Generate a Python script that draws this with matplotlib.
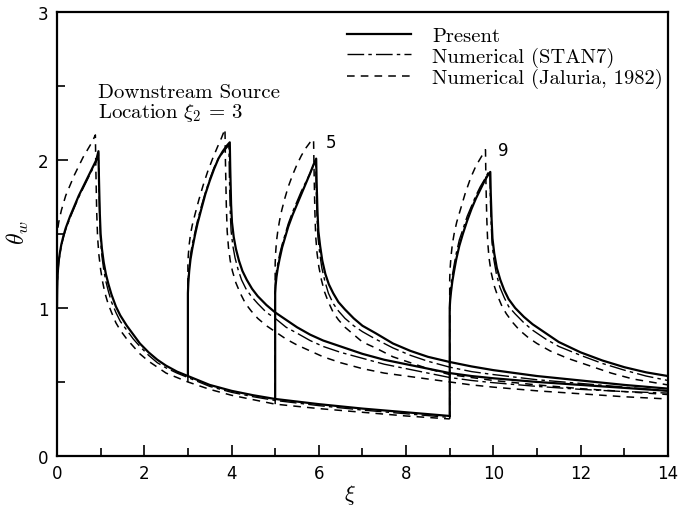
import matplotlib
matplotlib.use("Agg")
import matplotlib.pyplot as plt
from matplotlib.ticker import MultipleLocator

plt.rcParams['mathtext.fontset'] = 'cm'
plt.rcParams['axes.unicode_minus'] = False

# first source (0 < xi < 1), common to every case up to xi2
xi_p1 = [0, 0.005, 0.01, 0.02, 0.04, 0.07, 0.1, 0.15, 0.2, 0.3, 0.4, 0.5, 0.6, 0.7, 0.8, 0.9, 0.95,
         0.96, 0.98, 1.0, 1.03, 1.07, 1.12, 1.18, 1.25, 1.35, 1.45, 1.6, 1.75, 1.9, 2.1, 2.3, 2.5,
         2.75, 3.0, 3.5, 4.0, 4.5, 5.0, 6.0, 7.0, 8.0, 9.0]
th_p1 = [1.0, 1.12, 1.18, 1.25, 1.32, 1.38, 1.43, 1.49, 1.54, 1.62, 1.69, 1.76, 1.82, 1.88, 1.94, 2.0, 2.06,
         1.9, 1.65, 1.5, 1.4, 1.31, 1.23, 1.16, 1.09, 1.01, 0.95, 0.88, 0.82, 0.76, 0.7, 0.65, 0.61,
         0.57, 0.54, 0.48, 0.44, 0.41, 0.385, 0.35, 0.32, 0.295, 0.27]
xi_s1 = xi_p1
th_s1 = [1.05, 1.13, 1.18, 1.24, 1.31, 1.37, 1.42, 1.48, 1.53, 1.61, 1.68, 1.75, 1.81, 1.87, 1.93, 1.99, 2.05,
         1.85, 1.6, 1.45, 1.35, 1.26, 1.18, 1.11, 1.04, 0.97, 0.91, 0.85, 0.79, 0.74, 0.68, 0.63, 0.595,
         0.56, 0.53, 0.47, 0.43, 0.4, 0.375, 0.34, 0.31, 0.285, 0.26]
xi_j1 = [0, 0.005, 0.01, 0.02, 0.04, 0.07, 0.1, 0.15, 0.2, 0.3, 0.4, 0.5, 0.6, 0.7, 0.8, 0.88,
         0.89, 0.91, 0.93, 0.96, 1.0, 1.05, 1.1, 1.17, 1.25, 1.35, 1.45, 1.6, 1.75, 1.9, 2.1, 2.3, 2.5,
         2.75, 3.0, 3.5, 4.0, 4.5, 5.0, 6.0, 7.0, 8.0, 9.0]
th_j1 = [1.45, 1.49, 1.51, 1.54, 1.58, 1.62, 1.66, 1.71, 1.76, 1.83, 1.9, 1.96, 2.02, 2.07, 2.12, 2.17,
         1.95, 1.65, 1.48, 1.36, 1.26, 1.17, 1.1, 1.03, 0.97, 0.9, 0.85, 0.79, 0.74, 0.69, 0.64, 0.6, 0.56,
         0.53, 0.5, 0.45, 0.41, 0.38, 0.35, 0.32, 0.295, 0.27, 0.25]

# downstream source at xi2 = 3
xi_p3 = [3.0, 3.0, 3.01, 3.03, 3.06, 3.1, 3.16, 3.22, 3.3, 3.4, 3.5, 3.6, 3.7, 3.8, 3.9, 3.96,
         3.97, 3.99, 4.01, 4.05, 4.1, 4.17, 4.25, 4.35, 4.47, 4.6, 4.8, 5.0, 5.25, 5.5, 5.8, 6.1,
         6.5, 7.0, 7.5, 8.0, 8.5, 9.0, 9.5, 10.0, 11.0, 12.0, 13.0, 14.0]
th_p3 = [0.54, 1.1, 1.17, 1.25, 1.33, 1.4, 1.49, 1.57, 1.66, 1.77, 1.86, 1.94, 2.01, 2.06, 2.1, 2.12,
         1.95, 1.7, 1.58, 1.48, 1.4, 1.32, 1.25, 1.19, 1.13, 1.08, 1.02, 0.97, 0.92, 0.87, 0.82, 0.78,
         0.74, 0.69, 0.65, 0.62, 0.59, 0.56, 0.54, 0.525, 0.5, 0.48, 0.46, 0.44]
xi_s3 = [3.0, 3.0, 3.01, 3.03, 3.06, 3.1, 3.16, 3.22, 3.3, 3.4, 3.5, 3.6, 3.7, 3.8, 3.88, 3.94,
         3.95, 3.97, 3.99, 4.03, 4.08, 4.15, 4.23, 4.33, 4.45, 4.6, 4.8, 5.0, 5.25, 5.5, 5.8, 6.1,
         6.5, 7.0, 7.5, 8.0, 8.5, 9.0, 9.5, 10.0, 11.0, 12.0, 13.0, 14.0]
th_s3 = [0.53, 1.15, 1.21, 1.28, 1.36, 1.43, 1.51, 1.59, 1.68, 1.78, 1.87, 1.95, 2.01, 2.05, 2.08, 2.1,
         1.9, 1.65, 1.52, 1.42, 1.34, 1.26, 1.19, 1.13, 1.08, 1.03, 0.97, 0.93, 0.87, 0.83, 0.78, 0.74,
         0.7, 0.66, 0.62, 0.59, 0.56, 0.53, 0.51, 0.495, 0.47, 0.45, 0.435, 0.425]
xi_j3 = [3.0, 3.0, 3.01, 3.03, 3.06, 3.1, 3.16, 3.25, 3.35, 3.45, 3.58, 3.68, 3.77, 3.85,
         3.86, 3.88, 3.9, 3.93, 3.97, 4.02, 4.1, 4.2, 4.32, 4.45, 4.6, 4.8, 5.0, 5.25, 5.5, 5.8, 6.1,
         6.5, 7.0, 7.5, 8.0, 8.5, 9.0, 9.5, 10.0, 11.0, 12.0, 13.0, 14.0]
th_j3 = [0.5, 1.3, 1.36, 1.43, 1.5, 1.56, 1.63, 1.73, 1.83, 1.92, 2.02, 2.09, 2.15, 2.21,
         2.0, 1.7, 1.52, 1.41, 1.32, 1.25, 1.17, 1.1, 1.03, 0.98, 0.93, 0.88, 0.84, 0.79, 0.75, 0.71, 0.67,
         0.63, 0.59, 0.56, 0.54, 0.52, 0.5, 0.48, 0.465, 0.44, 0.42, 0.4, 0.385]

# downstream source at xi2 = 5
xi_p5 = [5.0, 5.0, 5.01, 5.03, 5.06, 5.1, 5.16, 5.22, 5.3, 5.4, 5.5, 5.6, 5.7, 5.8, 5.88, 5.94,
         5.95, 5.97, 5.99, 6.03, 6.08, 6.15, 6.23, 6.33, 6.45, 6.6, 6.8, 7.0, 7.3, 7.7, 8.1, 8.5,
         9.0, 9.5, 10.0, 11.0, 12.0, 13.0, 14.0]
th_p5 = [0.385, 1.1, 1.15, 1.21, 1.27, 1.33, 1.41, 1.47, 1.55, 1.63, 1.7, 1.77, 1.84, 1.91, 1.97, 2.01,
         1.85, 1.65, 1.52, 1.42, 1.32, 1.23, 1.16, 1.1, 1.04, 0.99, 0.93, 0.88, 0.83, 0.76, 0.71, 0.67,
         0.635, 0.605, 0.58, 0.54, 0.51, 0.48, 0.455]
xi_s5 = [5.0, 5.0, 5.01, 5.03, 5.06, 5.1, 5.16, 5.22, 5.3, 5.4, 5.5, 5.6, 5.7, 5.8, 5.87, 5.93,
         5.94, 5.96, 5.98, 6.02, 6.07, 6.14, 6.22, 6.33, 6.45, 6.6, 6.8, 7.0, 7.3, 7.7, 8.1, 8.5,
         9.0, 9.5, 10.0, 11.0, 12.0, 13.0, 14.0]
th_s5 = [0.375, 1.15, 1.2, 1.25, 1.3, 1.36, 1.43, 1.49, 1.57, 1.65, 1.72, 1.79, 1.85, 1.91, 1.96, 1.99,
         1.8, 1.6, 1.48, 1.37, 1.27, 1.18, 1.1, 1.03, 0.98, 0.93, 0.88, 0.84, 0.79, 0.73, 0.68, 0.64,
         0.6, 0.57, 0.55, 0.515, 0.49, 0.465, 0.44]
xi_j5 = [5.0, 5.0, 5.01, 5.03, 5.06, 5.1, 5.15, 5.22, 5.3, 5.4, 5.5, 5.6, 5.7, 5.8, 5.88,
         5.89, 5.91, 5.93, 5.96, 6.0, 6.06, 6.13, 6.22, 6.33, 6.45, 6.6, 6.8, 7.0, 7.3, 7.7, 8.1, 8.5,
         9.0, 9.5, 10.0, 11.0, 12.0, 13.0, 14.0]
th_j5 = [0.35, 1.3, 1.37, 1.45, 1.52, 1.59, 1.66, 1.74, 1.82, 1.9, 1.97, 2.03, 2.08, 2.12, 2.14,
         1.95, 1.65, 1.48, 1.37, 1.28, 1.19, 1.11, 1.04, 0.97, 0.92, 0.87, 0.82, 0.77, 0.73, 0.67, 0.63, 0.59,
         0.55, 0.53, 0.51, 0.48, 0.455, 0.435, 0.415]

# downstream source at xi2 = 9
xi_p9 = [9.0, 9.0, 9.01, 9.03, 9.06, 9.1, 9.15, 9.22, 9.3, 9.4, 9.5, 9.6, 9.7, 9.8, 9.88, 9.93,
         9.94, 9.96, 9.98, 10.02, 10.08, 10.16, 10.25, 10.35, 10.5, 10.7, 10.9, 11.2, 11.5, 12.0, 12.5,
         13.0, 13.5, 14.0]
th_p9 = [0.27, 1.0, 1.05, 1.11, 1.18, 1.25, 1.33, 1.42, 1.5, 1.59, 1.67, 1.74, 1.8, 1.86, 1.9, 1.92,
         1.78, 1.6, 1.47, 1.37, 1.27, 1.19, 1.12, 1.06, 1.0, 0.94, 0.89, 0.83, 0.77, 0.7, 0.645,
         0.6, 0.565, 0.54]
xi_s9 = [9.0, 9.0, 9.01, 9.03, 9.06, 9.1, 9.15, 9.22, 9.3, 9.4, 9.5, 9.6, 9.7, 9.8, 9.87, 9.92,
         9.93, 9.95, 9.97, 10.01, 10.07, 10.15, 10.25, 10.35, 10.5, 10.7, 10.9, 11.2, 11.5, 12.0, 12.5,
         13.0, 13.5, 14.0]
th_s9 = [0.26, 1.05, 1.1, 1.16, 1.22, 1.29, 1.37, 1.46, 1.53, 1.62, 1.69, 1.76, 1.82, 1.87, 1.91, 1.93,
         1.75, 1.57, 1.44, 1.33, 1.23, 1.14, 1.07, 1.01, 0.96, 0.9, 0.85, 0.79, 0.74, 0.68, 0.625,
         0.58, 0.54, 0.51]
xi_j9 = [9.0, 9.0, 9.01, 9.03, 9.06, 9.1, 9.16, 9.25, 9.35, 9.48, 9.6, 9.7, 9.78, 9.82,
         9.83, 9.85, 9.87, 9.9, 9.95, 10.02, 10.1, 10.2, 10.3, 10.45, 10.6, 10.8, 11.0, 11.3, 11.7, 12.2,
         12.7, 13.2, 13.6, 14.0]
th_j9 = [0.25, 1.2, 1.27, 1.35, 1.43, 1.5, 1.58, 1.67, 1.77, 1.88, 1.96, 2.01, 2.05, 2.07,
         1.85, 1.6, 1.45, 1.34, 1.24, 1.15, 1.08, 1.01, 0.96, 0.9, 0.85, 0.8, 0.76, 0.71, 0.66, 0.61,
         0.56, 0.52, 0.5, 0.48]

present = [(xi_p1, th_p1), (xi_p3, th_p3), (xi_p5, th_p5), (xi_p9, th_p9)]
stan7 = [(xi_s1, th_s1), (xi_s3, th_s3), (xi_s5, th_s5), (xi_s9, th_s9)]
jaluria = [(xi_j1, th_j1), (xi_j3, th_j3), (xi_j5, th_j5), (xi_j9, th_j9)]

fig = plt.figure(figsize=(6.95, 5.06), dpi=100)
ax = fig.add_axes([0.082, 0.097, 0.879, 0.877])

sty_p = dict(color='black', lw=1.6, linestyle='-')
sty_s = dict(color='black', lw=1.0, dashes=(12, 3, 2.5, 3))
sty_j = dict(color='black', lw=1.1, dashes=(5, 4))

for x, y in present:
    lp, = ax.plot(x, y, **sty_p)
for x, y in stan7:
    ls, = ax.plot(x, y, **sty_s)
for x, y in jaluria:
    lj, = ax.plot(x, y, **sty_j)

ax.set_xlim(0, 14)
ax.set_ylim(0, 3)
ax.xaxis.set_major_locator(MultipleLocator(2))
ax.xaxis.set_minor_locator(MultipleLocator(1))
ax.yaxis.set_major_locator(MultipleLocator(1))
ax.yaxis.set_minor_locator(MultipleLocator(0.5))
ax.tick_params(which='both', direction='in', width=1.2, labelsize=12, pad=6)
ax.tick_params(which='major', length=8)
ax.tick_params(which='minor', length=6)
for s in ax.spines.values():
    s.set_linewidth(1.6)

ax.set_xlabel(r'$\xi$', fontsize=16)
ax.xaxis.set_label_coords(0.48, -0.058)
ax.set_ylabel(r'$\theta_w$', fontsize=17)
ax.yaxis.set_label_coords(-0.042, 0.505)

serif = 'cmr10'
leg = ax.legend([lp, ls, lj], ['Present', 'Numerical (STAN7)', 'Numerical (Jaluria, 1982)'],
                loc='upper left', bbox_to_anchor=(0.475, 0.968), frameon=False,
                handlelength=3.1, handletextpad=1.05, labelspacing=0.08, borderpad=0, borderaxespad=0,
                prop={'family': serif, 'size': 14.8})

ax.text(0.93, 2.52, 'Downstream Source\nLocation $\\xi_2$ = 3', fontsize=15, family=serif,
        linespacing=0.98, va='top', ha='left')
ax.text(6.15, 2.12, '5', fontsize=12, ha='left', va='center')
ax.text(10.1, 2.07, '9', fontsize=12, ha='left', va='center')

fig.savefig('out.png', dpi=100)
